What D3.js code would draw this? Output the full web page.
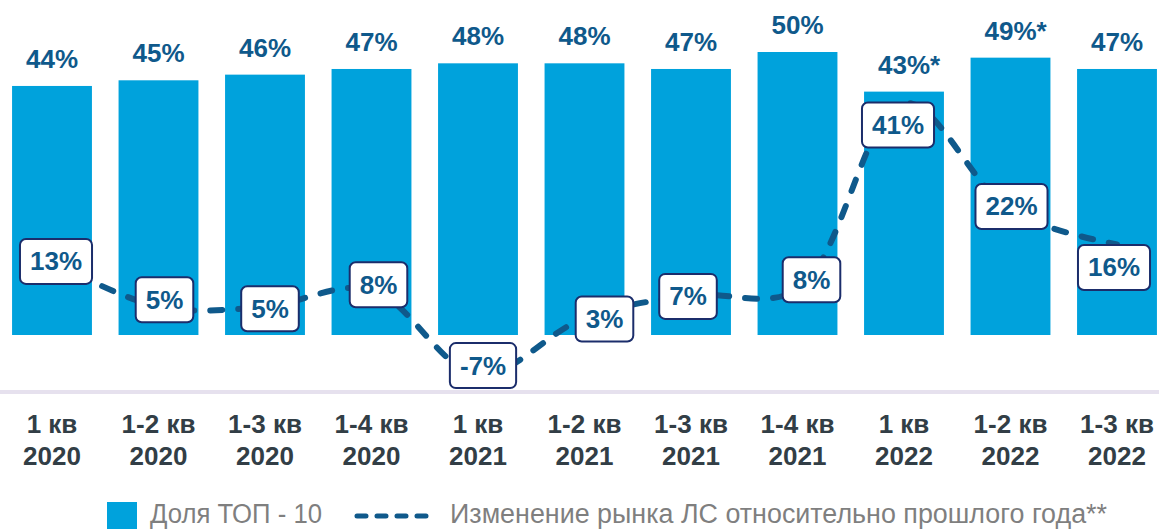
<!DOCTYPE html>
<html>
<head>
<meta charset="utf-8">
<script src="https://cdn.jsdelivr.net/npm/d3@7"></script>
<style>
  body { margin: 0; background: #fff; }
  svg { display: block; font-family: "Liberation Sans", Arial, sans-serif; }
</style>
</head>
<body>
<svg id="chart" width="1159" height="529"></svg>
<script>
// data
const periods = ["1 кв", "1-2 кв", "1-3 кв", "1-4 кв", "1 кв", "1-2 кв", "1-3 кв", "1-4 кв", "1 кв", "1-2 кв", "1-3 кв"];
const years = ["2020", "2020", "2020", "2020", "2021", "2021", "2021", "2021", "2022", "2022", "2022"];
const top10Share = [44, 45, 46, 47, 48, 48, 47, 50, 43, 49, 47];
const shareNotes = ["", "", "", "", "", "", "", "", "*", "*", ""];
const marketChange = [13, 5, 5, 8, -7, 3, 7, 8, 41, 22, 16];
const legendNames = ["Доля ТОП - 10", "Изменение рынка ЛС относительно прошлого года**"];

// label box nudges (dx, dy) so boxes sit like in the original
const boxNudge = [[4, 0], [6, -7], [5, 2], [7, -5], [5, -9], [20, 1], [-3, 1], [14, -10], [-6, 22], [1, -4], [-3, 23]];

const barColor = "#00a2dc";
const darkBlue = "#0f598b";
const navy = "#1b2d6b";

let svg = d3.select("#chart");
let idx = d3.range(periods.length);

let x = d3.scaleBand().domain(idx).range([-1.25, 1170.25]).paddingInner(0.25).paddingOuter(0.125);
let y = d3.scaleLinear().domain([0, 50]).range([335, 52]);
let cx = i => x(i) + x.bandwidth() / 2;

// bars
svg.append("g").selectAll("rect").data(idx).join("rect")
    .attr("x", i => x(i)).attr("width", x.bandwidth())
    .attr("y", i => y(top10Share[i])).attr("height", i => y(0) - y(top10Share[i]))
    .attr("fill", barColor);

// labels over bars
let tops = svg.append("g").selectAll("text").data(idx).join("text")
    .attr("y", i => y(top10Share[i]) - 18)
    .attr("font-size", 26).attr("font-weight", "bold").attr("fill", darkBlue);
tops.append("tspan").attr("class", "num").text(i => top10Share[i] + "%");
tops.append("tspan").text(i => shareNotes[i]);
tops.each(function(i) {
    let w = d3.select(this).select(".num").node().getComputedTextLength();
    d3.select(this).attr("x", cx(i) - w / 2);
});

// x axis band
svg.append("rect").attr("x", 0).attr("width", 1159).attr("y", 390).attr("height", 4).attr("fill", "#e6e1ee");

// market change line
let line = d3.line().x(i => cx(i)).y(i => y(marketChange[i])).curve(d3.curveCatmullRom);
svg.append("path").attr("d", line(idx))
    .attr("fill", "none").attr("stroke", darkBlue).attr("stroke-width", 6)
    .attr("stroke-linecap", "round").attr("stroke-dasharray", "12,16");

// value boxes
let boxes = svg.append("g").selectAll("g").data(idx).join("g")
    .attr("transform", i => `translate(${cx(i) + boxNudge[i][0]},${y(marketChange[i]) + boxNudge[i][1]})`);
boxes.append("rect");
boxes.append("text").attr("text-anchor", "middle").attr("y", 9)
    .attr("font-size", 26).attr("font-weight", "bold").attr("fill", darkBlue)
    .text(i => marketChange[i] + "%");
boxes.each(function() {
    let g = d3.select(this);
    let w = g.select("text").node().getComputedTextLength() + 20;
    g.select("rect").attr("x", -w / 2).attr("y", -22.5).attr("width", w).attr("height", 45)
        .attr("rx", 6).attr("fill", "#fff").attr("stroke", navy).attr("stroke-width", 2);
});

// category labels
let cats = svg.append("g").selectAll("text").data(idx).join("text")
    .attr("text-anchor", "middle").attr("font-size", 26).attr("font-weight", "bold").attr("fill", "#323e46");
cats.append("tspan").attr("x", cx).attr("y", 433).text(i => periods[i]);
cats.append("tspan").attr("x", cx).attr("y", 465).text(i => years[i]);

// legend
let lg = svg.append("g");
lg.append("rect").attr("x", 107).attr("y", 502).attr("width", 30).attr("height", 27).attr("fill", barColor);
lg.append("text").attr("x", 150).attr("y", 523).attr("font-size", 27).attr("fill", "#7f7f7f")
    .attr("textLength", 172).attr("lengthAdjust", "spacingAndGlyphs").text(legendNames[0]);
lg.append("line").attr("x1", 357).attr("x2", 437).attr("y1", 516).attr("y2", 516)
    .attr("stroke", darkBlue).attr("stroke-width", 5).attr("stroke-linecap", "round").attr("stroke-dasharray", "9,11");
lg.append("text").attr("x", 450).attr("y", 523).attr("font-size", 27).attr("fill", "#7f7f7f")
    .attr("textLength", 657).attr("lengthAdjust", "spacingAndGlyphs").text(legendNames[1]);
</script>
</body>
</html>
